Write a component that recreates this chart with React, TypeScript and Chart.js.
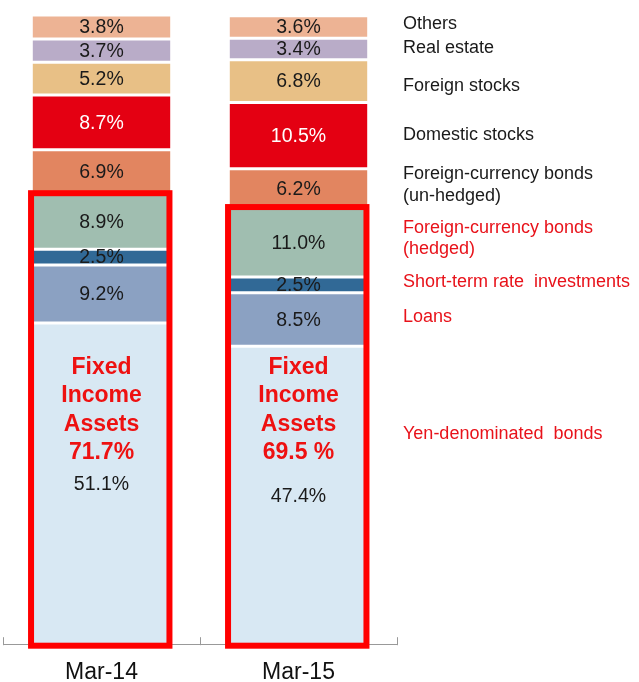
import React, { useEffect, useRef } from "react";
import { Chart, registerables } from "chart.js";

Chart.register(...registerables);

// ---- Data ----
const categories = ["Mar-14", "Mar-15"];

const yenBonds = [51.1, 47.4];
const loans = [9.2, 8.5];
const shortTerm = [2.5, 2.5];
const fcHedged = [8.9, 11.0];
const fcUnhedged = [6.9, 6.2];
const domesticStocks = [8.7, 10.5];
const foreignStocks = [5.2, 6.8];
const realEstate = [3.7, 3.4];
const others = [3.8, 3.6];

const fixedIncomeTotals = [71.7, 69.5];
const fixedIncomeText = ["71.7%", "69.5 %"];
const fixedIncomeTitle = ["Fixed", "Income", "Assets"];

// Series labels (bottom to top), with their line breaks
const seriesLabels = [
  ["Yen-denominated  bonds"],
  ["Loans"],
  ["Short-term rate  investments"],
  ["Foreign-currency bonds", "(hedged)"],
  ["Foreign-currency bonds", "(un-hedged)"],
  ["Domestic stocks"],
  ["Foreign stocks"],
  ["Real estate"],
  ["Others"],
];
// Vertical position (in % of the axis) of each side label
const seriesLabelPos = [33.5, 52.1, 57.6, 64.5, 73.0, 81.0, 88.7, 94.8, 98.6];
const seriesLabelRed = [true, true, true, true, false, false, false, false, false];

const seriesValues = [
  yenBonds,
  loans,
  shortTerm,
  fcHedged,
  fcUnhedged,
  domesticStocks,
  foreignStocks,
  realEstate,
  others,
];

const seriesColors = [
  "#D8E8F3",
  "#8BA1C2",
  "#316996",
  "#A0BEB0",
  "#E28560",
  "#E40012",
  "#E8C086",
  "#B9ACC8",
  "#EDB394",
];
const valueTextColors = ["#1a1a1a", "#1a1a1a", "#1a1a1a", "#1a1a1a", "#1a1a1a", "#ffffff", "#1a1a1a", "#1a1a1a", "#1a1a1a"];

const FONT = "'Liberation Sans', Arial, Helvetica, sans-serif";

const overlayPlugin = {
  id: "overlay",
  afterDatasetsDraw(chart: any) {
    const ctx = chart.ctx;
    const x = chart.scales.x;
    const y = chart.scales.y;

    // value labels inside segments
    ctx.save();
    ctx.font = `19.5px ${FONT}`;
    ctx.textAlign = "center";
    ctx.textBaseline = "middle";
    chart.data.datasets.forEach((ds: any, di: number) => {
      const meta = chart.getDatasetMeta(di);
      meta.data.forEach((el: any, i: number) => {
        const v = ds.data[i];
        const mid = (el.y + el.base) / 2;
        ctx.fillStyle = valueTextColors[di];
        ctx.fillText(v.toFixed(1) + "%", el.x, mid + 1);
      });
    });
    ctx.restore();

    // red boxes around fixed income assets
    const meta0 = chart.getDatasetMeta(0);
    ctx.save();
    ctx.strokeStyle = "#FF0000";
    ctx.lineWidth = 6;
    meta0.data.forEach((el: any, i: number) => {
      const left = el.x - el.width / 2 - 1.5;
      const right = el.x + el.width / 2 - 1;
      const top = y.getPixelForValue(fixedIncomeTotals[i]);
      const bottom = y.getPixelForValue(0) + 1;
      ctx.strokeRect(left, top, right - left, bottom - top);
    });
    ctx.restore();

    // Fixed income annotation
    ctx.save();
    ctx.textAlign = "center";
    ctx.textBaseline = "middle";
    meta0.data.forEach((el: any, i: number) => {
      const y0 = y.getPixelForValue(44);
      const lh = 28.5;
      ctx.font = `bold 23px ${FONT}`;
      ctx.fillStyle = "#EE1111";
      fixedIncomeTitle.forEach((t, k) => ctx.fillText(t, el.x, y0 + k * lh));
      ctx.fillText(fixedIncomeText[i], el.x, y0 + 3 * lh);
    });
    ctx.restore();

    // side labels
    ctx.save();
    ctx.font = `18px ${FONT}`;
    ctx.textAlign = "left";
    ctx.textBaseline = "middle";
    const lx = x.right + 6;
    seriesLabels.forEach((lines, si) => {
      const cy = y.getPixelForValue(seriesLabelPos[si]);
      const lh = 21.5;
      const start = cy - ((lines.length - 1) * lh) / 2;
      ctx.fillStyle = seriesLabelRed[si] ? "#E8121A" : "#1a1a1a";
      lines.forEach((t, k) => ctx.fillText(t, lx, start + k * lh));
    });
    ctx.restore();

    // axis tick marks (pointing up)
    ctx.save();
    ctx.strokeStyle = "#999999";
    ctx.lineWidth = 1;
    const by = y.getPixelForValue(0) + 0.5;
    const xs = [x.left, (x.getPixelForValue(0) + x.getPixelForValue(1)) / 2, x.right];
    xs.forEach((px) => {
      ctx.beginPath();
      ctx.moveTo(Math.round(px) + 0.5, by);
      ctx.lineTo(Math.round(px) + 0.5, by - 8);
      ctx.stroke();
    });
    ctx.restore();
  },
};

export default function App() {
  const ref = useRef<HTMLCanvasElement | null>(null);

  useEffect(() => {
    if (!ref.current) return;
    const chart = new Chart(ref.current, {
      type: "bar",
      data: {
        labels: categories,
        datasets: seriesValues.map((vals, i) => ({
          label: seriesLabels[i].join(" "),
          data: vals,
          backgroundColor: seriesColors[i],
          borderColor: "#ffffff",
          borderWidth: { top: 1.5, bottom: 1.5, left: 0, right: 0 },
          borderSkipped: false,
          barPercentage: 0.7,
          categoryPercentage: 1,
        })),
      },
      options: {
        animation: false,
        responsive: false,
        maintainAspectRatio: false,
        layout: { padding: { left: 3, right: 242, top: 15, bottom: -19 } },
        plugins: {
          legend: { display: false },
          tooltip: { enabled: false },
        },
        scales: {
          x: {
            stacked: true,
            grid: { display: false, drawTicks: false },
            border: { display: true, color: "#999999", width: 1 },
            ticks: {
              color: "#111111",
              font: { family: FONT, size: 23, lineHeight: 1.1 },
              padding: 15.5,
            },
          },
          y: {
            stacked: true,
            display: false,
            min: 0,
            max: 100,
          },
        },
      },
      plugins: [overlayPlugin],
    });
    return () => chart.destroy();
  }, []);

  return (
    <div style={{ position: "fixed", left: 0, top: 0, width: 639, height: 682, background: "#ffffff" }}>
      <canvas ref={ref} width={639} height={682} style={{ width: 639, height: 682, display: "block" }} />
    </div>
  );
}
